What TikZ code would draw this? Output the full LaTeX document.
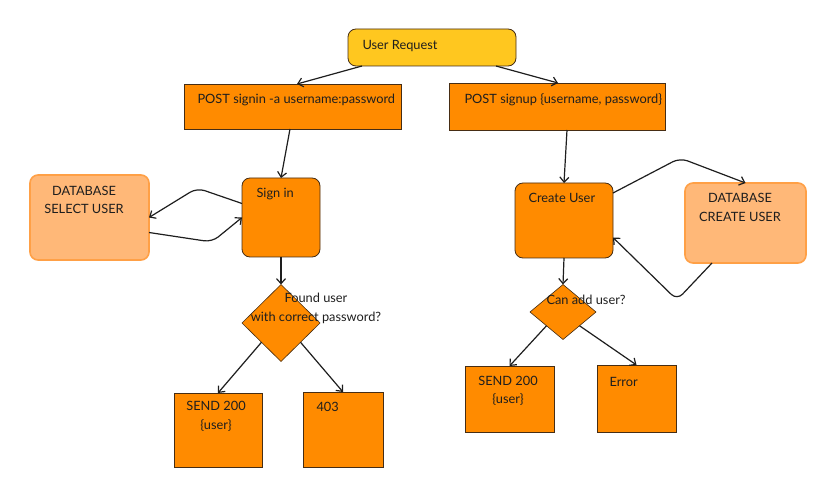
\documentclass[tikz,border=0pt]{standalone}
\usepackage{fontspec}
\setmainfont{Lato}
\usepackage{tikz}
\usetikzlibrary{shapes.geometric,arrows.meta}

\definecolor{reqfill}{RGB}{255,199,31}
\definecolor{stepfill}{RGB}{255,139,0}
\definecolor{dbfill}{RGB}{255,184,120}
\definecolor{dbline}{RGB}{255,160,70}
\definecolor{boxline}{RGB}{70,45,20}
\definecolor{ink}{RGB}{30,30,30}

\begin{document}
\begin{tikzpicture}[x=1pt,y=-1pt,
		font=\fontsize{12.8}{18.5}\selectfont, text=ink,
		>={Straight Barb[length=5pt,width=9pt]},
		box/.style={draw=boxline, fill=stepfill, line width=0.8pt, inner sep=0pt,
			outer sep=0pt, anchor=north west},
		roundbox/.style={box, rounded corners=8pt},
		dbbox/.style={box, draw=dbline, fill=dbfill, line width=1.6pt, rounded corners=8pt},
		choice/.style={diamond, draw=boxline, fill=stepfill, line width=0.6pt,
			inner sep=0pt, outer sep=0pt},
		flow/.style={->, draw=ink, line width=1.2pt},
		loopflow/.style={flow, rounded corners=8pt}]

		\useasboundingbox (0,0) rectangle (836,497);

		% request
		\node[roundbox, fill=reqfill, minimum width=168pt, minimum height=37pt] (req) at (348,29) {};
		\node[anchor=west] (reqtxt) at (359,46) {User Request};

		% endpoints
		\node[box, minimum width=217pt, minimum height=45pt] (signin) at (184,84) {};
		\node[anchor=west] (signintxt) at (194,100) {POST signin -a username:password};
		\node[box, minimum width=216pt, minimum height=47pt] (signup) at (449,83) {};
		\node[anchor=west] (signuptxt) at (461,100) {POST signup \{username, password\}};

		%% Sign in branch %%
		\node[roundbox, minimum width=78pt, minimum height=79pt] (login) at (242,178) {};
		\node[anchor=west] (logintxt) at (253,194) {Sign in};
		\node[dbbox, minimum width=119pt, minimum height=85pt] (dbsel) at (30,175) {};
		\node[align=center] (dbseltxt) at (84,200) {DATABASE\\SELECT USER};
		\node[choice, minimum width=78pt, minimum height=77pt] (found) at (281,323) {};
		\node[align=center] (foundtxt) at (316,308.5) {Found user\\with correct password?};
		\node[box, minimum width=88pt, minimum height=74pt] (sendl) at (174,393) {};
		\node[align=center] (sendltxt) at (216,416.5) {SEND 200\\\{user\}};
		\node[box, minimum width=80pt, minimum height=75pt] (forbid) at (303,392) {};
		\node[anchor=west] (forbidtxt) at (313,407) {403};

		%% Sign up branch %%
		\node[roundbox, minimum width=98pt, minimum height=75pt] (create) at (515,183) {};
		\node[anchor=west] (createtxt) at (525,198) {Create User};
		\node[dbbox, minimum width=121pt, minimum height=80pt] (dbnew) at (685,183) {};
		\node[align=center] (dbnewtxt) at (740,207.5) {DATABASE\\CREATE USER};
		\node[choice, minimum width=66pt, minimum height=55pt] (canadd) at (563,312) {};
		\node[anchor=west] (canaddtxt) at (543,300) {Can add user?};
		\node[box, minimum width=89pt, minimum height=66pt] (sendr) at (465,366) {};
		\node[align=center] (sendrtxt) at (508,391) {SEND 200\\\{user\}};
		\node[box, minimum width=79pt, minimum height=67pt] (err) at (597,365) {};
		\node[anchor=west] (errtxt) at (606,382) {Error};

		%% connectors %%
		\draw[flow] ([xshift=14pt]req.south west) -- ([xshift=113pt]signin.north west);
		\draw[flow] ([xshift=148pt]req.south west) -- ([xshift=109pt]signup.north west);

		% sign in
		\draw[flow] ([xshift=106pt]signin.south west) -- (login.north);
		\draw[loopflow] ([yshift=14pt]login.west) -- (197,188) -- (dbsel.east);
		\draw[loopflow] ([yshift=-15pt]dbsel.east) -- (212,242) -- (login.west);
		\draw[flow] (login.south) -- (found.north);
		\draw[flow] (found.south west) -- (sendl.north);
		\draw[flow] (found.south east) -- (forbid.north);

		% sign up
		\draw[flow] ([xshift=118pt]signup.south west) -- (create.north);
		\draw[loopflow] ([yshift=-10pt]create.north east) -- (680,158) -- (dbnew.north);
		\draw[loopflow] ([xshift=27pt]dbnew.south west) -- (677,300) -- ([yshift=-17pt]create.east);
		\draw[flow] (create.south) -- (canadd.north);
		\draw[flow] (canadd.south west) -- (sendr.north);
		\draw[flow] (canadd.south east) -- (err.north);

\end{tikzpicture}
\end{document}
